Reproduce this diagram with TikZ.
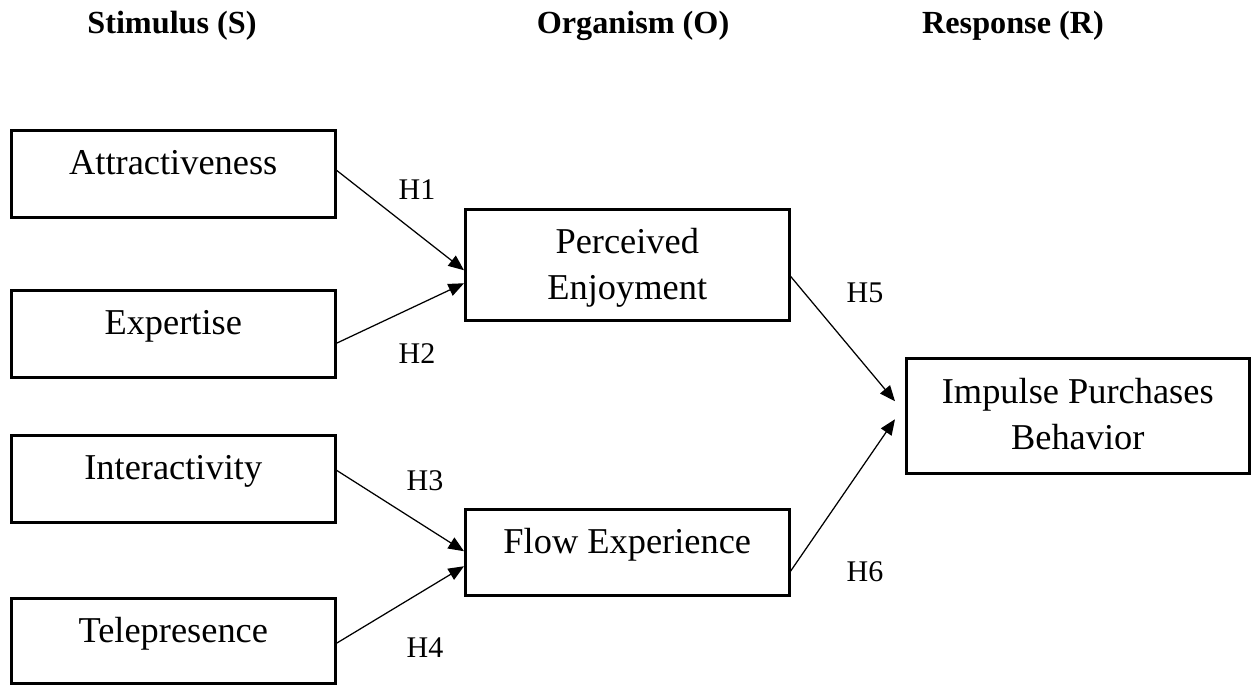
\documentclass[tikz,border=0pt]{standalone}
\usepackage{fontspec}
\setmainfont{Liberation Serif}
\usepackage{tikz}
\usetikzlibrary{arrows.meta}
\newcommand{\pxu}{0.36pt}

\begin{document}
\begin{tikzpicture}[x=0.36pt,y=-0.36pt,
  box/.style={draw,line width=0.9pt,anchor=north west,inner sep=0pt,align=center,
    minimum width=324*\pxu,font=\fontsize{13.1}{16.6}\selectfont},
  onebox/.style={box,text height=44*\pxu,text depth=43*\pxu},
  hyp/.style={-{Triangle[length=5.6pt,width=4.6pt]},line width=0.45pt},
  hlabel/.style={font=\fontsize{10.8}{13}\selectfont},
  head/.style={anchor=base,font=\fontsize{11.6}{14}\selectfont\bfseries}]
  \useasboundingbox (0,0) rectangle (1254,684);
  % column headers
  \node[head] (stim) at (172,33) {Stimulus (S)};
  \node[head] (orga) at (633,33) {Organism (O)};
  \node[head] (resp) at (1013,33) {Response (R)};
  % stimulus boxes
  \node[onebox] (attr) at (10,129) {Attractiveness};
  \node[onebox] (expe) at (10,289) {Expertise};
  \node[onebox] (inte) at (10,434) {Interactivity};
  \node[onebox,text depth=41*\pxu] (tele) at (10,597) {Telepresence};
  % organism and response boxes
  \node[box,text height=90*\pxu,text depth=21*\pxu] (enjoy) at (464,208) {Perceived\\Enjoyment};
  \node[onebox,text depth=42*\pxu] (flow) at (464,508) {Flow Experience};
  \node[box,minimum width=343*\pxu,text height=91*\pxu,text depth=24*\pxu] (impulse) at (905,357) {Impulse Purchases\\Behavior};
  % hypotheses
  \draw[hyp] ([yshift=3.5*\pxu]attr.east) -- ([yshift=-5.5*\pxu]enjoy.west);
  \draw[hyp] ([yshift=-9.5*\pxu]expe.east) -- ([yshift=-18.5*\pxu]enjoy.west);
  \draw[hyp] ([yshift=8.5*\pxu]inte.east) -- ([yshift=1*\pxu]flow.west);
  \draw[hyp] ([yshift=-2.5*\pxu]tele.east) -- ([yshift=-14*\pxu]flow.west);
  \draw[hyp] ([yshift=-11.5*\pxu]enjoy.east) -- ([xshift=-10*\pxu,yshift=14.5*\pxu]impulse.west);
  \draw[hyp] ([yshift=-19*\pxu]flow.east) -- ([xshift=-10*\pxu,yshift=-3.5*\pxu]impulse.west);
  \node[hlabel] (h1) at (417,190) {H1};
  \node[hlabel] (h2) at (417,354) {H2};
  \node[hlabel] (h3) at (425,481) {H3};
  \node[hlabel] (h4) at (425,648) {H4};
  \node[hlabel] (h5) at (865,293) {H5};
  \node[hlabel] (h6) at (865,572) {H6};
\end{tikzpicture}
\end{document}
